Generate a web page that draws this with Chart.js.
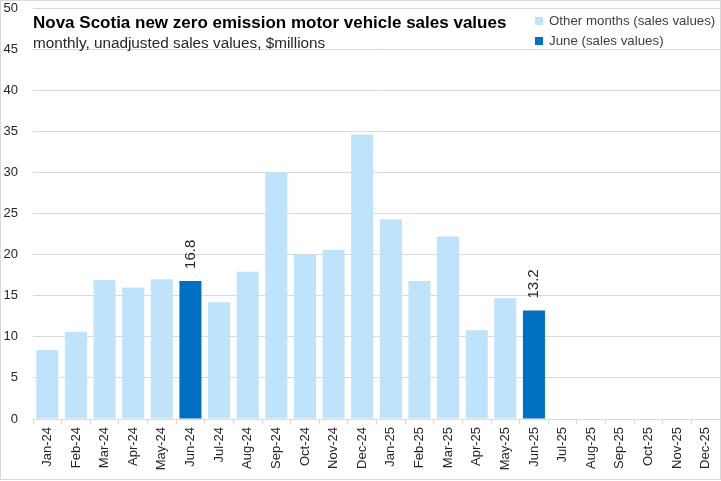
<!DOCTYPE html>
<html>
<head>
<meta charset="utf-8">
<script src="https://cdn.jsdelivr.net/npm/chart.js@4.4.1/dist/chart.umd.min.js"></script>
<style>
  body { margin: 0; background: #fff; }
  #wrap { position: relative; width: 721px; height: 481px; }
  canvas { position: absolute; left: 0; top: 0; }
  .ttl { position: absolute; font-family: "Liberation Sans", Arial, sans-serif; color: #000; white-space: nowrap; line-height: 1.15; }
  #title { left: 33px; top: 13px; font-size: 17px; font-weight: bold; }
  #subtitle { left: 33px; top: 34px; font-size: 15.3px; color: #262626; }
  .leg { position: absolute; left: 535px; font-family: "Liberation Sans", Arial, sans-serif; font-size: 13.3px; line-height: 1.15; color: #404040; white-space: nowrap; }
  .leg span { display: inline-block; width: 8px; height: 8px; margin-right: 6px; }
</style>
</head>
<body>
<div id="wrap">
  <canvas id="myChart" width="721" height="481"></canvas>
  <div id="title" class="ttl">Nova Scotia new zero emission motor vehicle sales values</div>
  <div id="subtitle" class="ttl">monthly, unadjusted sales values, $millions</div>
  <div class="leg" style="top:13px"><span style="background:#BFE3FA"></span>Other months (sales values)</div>
  <div class="leg" style="top:33px"><span style="background:#0070C0"></span>June (sales values)</div>
</div>
<script>
// months shown on the x axis
const months = ['Jan-24','Feb-24','Mar-24','Apr-24','May-24','Jun-24','Jul-24','Aug-24','Sep-24','Oct-24','Nov-24','Dec-24',
                'Jan-25','Feb-25','Mar-25','Apr-25','May-25','Jun-25','Jul-25','Aug-25','Sep-25','Oct-25','Nov-25','Dec-25'];
// sales values, $millions (null = not shown in that series)
const otherMonths = [8.4, 10.6, 16.9, 16.0, 17.0, null, 14.2, 17.9, 30.0, 20.0, 20.6, 34.6,
                     24.3, 16.8, 22.2, 10.8, 14.7, null, null, null, null, null, null, null];
const juneValues = [null, null, null, null, null, 16.8, null, null, null, null, null, null,
                    null, null, null, null, null, 13.2, null, null, null, null, null, null];
const yTicks = [0, 5, 10, 15, 20, 25, 30, 35, 40, 45, 50];

const FONT = '"Liberation Sans", Arial, sans-serif';

// border round the chart area like the spreadsheet chart
const frame = {
  id: 'frame',
  beforeDraw(chart) {
    let c = chart.ctx;
    c.save();
    c.fillStyle = '#fff';
    c.fillRect(0, 0, chart.width, chart.height);
    c.strokeStyle = '#d9d9d9';
    c.lineWidth = 1;
    c.strokeRect(0.5, 0.5, chart.width - 1, chart.height - 2);
    c.restore();
  }
};

// rotated value labels above the June bars
const juneLabels = {
  id: 'juneLabels',
  afterDatasetsDraw(chart) {
    let c = chart.ctx;
    let meta = chart.getDatasetMeta(1);
    c.save();
    c.font = '15px ' + FONT;
    c.fillStyle = '#262626';
    c.textAlign = 'left';
    c.textBaseline = 'middle';
    meta.data.forEach((bar, i) => {
      if (juneValues[i] == null) return;
      c.save();
      c.translate(bar.x, bar.y - 12);
      c.rotate(-Math.PI / 2);
      c.fillText(juneValues[i].toFixed(1), 0, 0);
      c.restore();
    });
    c.restore();
  }
};

new Chart(document.getElementById('myChart'), {
  type: 'bar',
  data: {
    labels: months,
    datasets: [
      { label: 'Other months (sales values)', data: otherMonths, backgroundColor: '#BFE3FA' },
      { label: 'June (sales values)', data: juneValues, backgroundColor: '#0070C0' }
    ]
  },
  options: {
    responsive: false,
    animation: false,
    events: [],
    layout: { padding: { top: 2, right: 1, bottom: 2, left: 0 } },
    datasets: { bar: { categoryPercentage: 1, barPercentage: 0.77 } },
    plugins: { legend: { display: false }, tooltip: { enabled: false } },
    scales: {
      x: {
        stacked: true,
        grid: { drawOnChartArea: false, drawTicks: true, tickLength: 5, offset: true, color: '#d9d9d9' },
        border: { color: '#d9d9d9' },
        ticks: { maxRotation: 90, minRotation: 90, autoSkip: false, padding: 3,
                 font: { family: FONT, size: 13 }, color: '#262626' },
        afterFit: (s) => { s.height = 60; s.paddingRight = 0; s.paddingLeft = 0; }
      },
      y: {
        stacked: true,
        min: 0, max: 50,
        afterBuildTicks: (s) => { s.ticks = yTicks.map(v => ({ value: v })); },
        grid: { drawTicks: false, color: '#d9d9d9' },
        border: { display: false },
        ticks: { padding: 15, font: { family: FONT, size: 13 }, color: '#262626' },
        // the tick padding would also push the top down; keep only half a label
        afterFit: (s) => { s.width = 33; s.paddingTop = 8; s.paddingBottom = 8; }
      }
    }
  },
  plugins: [frame, juneLabels]
});
</script>
</body>
</html>
